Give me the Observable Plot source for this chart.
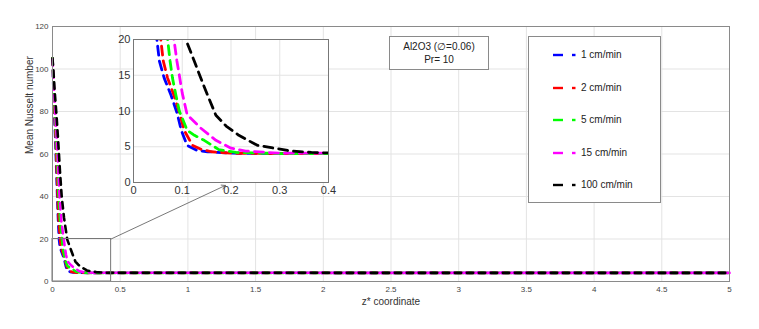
<!DOCTYPE html>
<html><head><meta charset="utf-8">
<script src="https://cdn.jsdelivr.net/npm/d3@7"></script>
<script src="https://cdn.jsdelivr.net/npm/@observablehq/plot@0.6"></script>
<style>
body{margin:0;background:#fff;font-family:"Liberation Sans",Arial,sans-serif;}
#wrap{position:relative;width:759px;height:329px;overflow:hidden;}
#wrap svg{position:absolute;}
.box{position:absolute;border:1px solid #8a8a8a;background:#fff;box-sizing:border-box;color:#222;}
</style></head><body><div id="wrap"></div>
<script>
// ---- data ----
const seriesNames = ["1 cm/min", "2 cm/min", "5 cm/min", "15 cm/min", "100 cm/min"];
const seriesColors = ["#0000ff", "#ff0000", "#00ff00", "#ff00ff", "#000000"];

const zBlue  = [0, 0.003, 0.008, 0.014, 0.02, 0.027, 0.035, 0.042, 0.048, 0.053, 0.063, 0.077, 0.089, 0.098, 0.11, 0.13, 0.152, 0.2, 0.3, 5];
const nuBlue = [105, 98, 88, 78, 68, 55, 40, 28, 20, 17, 14.6, 12.2, 9.8, 7.3, 5.2, 4.5, 4.3, 4.1, 4.05, 4.05];

const zRed  = [0, 0.004, 0.009, 0.016, 0.023, 0.03, 0.038, 0.046, 0.056, 0.061, 0.07, 0.083, 0.094, 0.104, 0.121, 0.14, 0.16, 0.2, 0.3, 5];
const nuRed = [105, 98, 88, 78, 68, 55, 40, 28, 20, 17, 14.6, 12.2, 9.8, 7.3, 5.2, 4.6, 4.3, 4.1, 4.05, 4.05];

const zGreen  = [0, 0.005, 0.011, 0.019, 0.027, 0.036, 0.045, 0.056, 0.07, 0.075, 0.08, 0.087, 0.094, 0.1, 0.11, 0.125, 0.145, 0.175, 0.21, 0.3, 5];
const nuGreen = [105, 98, 88, 78, 68, 55, 40, 28, 20, 17, 14.6, 12.2, 10, 9, 7.3, 6.6, 5.9, 4.6, 4.2, 4.05, 4.05];

const zMagenta  = [0, 0.006, 0.013, 0.022, 0.031, 0.041, 0.052, 0.066, 0.083, 0.089, 0.094, 0.1, 0.11, 0.138, 0.169, 0.2, 0.23, 0.3, 5];
const nuMagenta = [105, 98, 88, 78, 68, 55, 40, 28, 20, 17, 15, 12.5, 9.5, 7.6, 5.9, 4.8, 4.4, 4.1, 4.05];

const zBlack  = [0, 0.008, 0.018, 0.03, 0.042, 0.055, 0.068, 0.085, 0.109, 0.124, 0.138, 0.152, 0.169, 0.19, 0.216, 0.254, 0.288, 0.323, 0.365, 0.42, 5];
const nuBlack = [105, 98, 88, 78, 66, 52, 40, 30, 19.7, 17.1, 14.6, 12.2, 9.4, 7.9, 6.6, 5.2, 4.8, 4.4, 4.2, 4.1, 4.05];

const xTicksMain = [0, 0.5, 1, 1.5, 2, 2.5, 3, 3.5, 4, 4.5, 5];
const yTicksMain = [0, 20, 40, 60, 80, 100, 120];
const xTicksInset = [0, 0.1, 0.2, 0.3, 0.4];
const yTicksInset = [0, 5, 10, 15, 20];

const zoomBox = [{x1: 0, x2: 0.433, y1: 0, y2: 20}];
const zoomArrow = [{x1: 0.433, y1: 20, x2: 1.277, y2: 45.2}];

const annotationLines = ["Al2O3 (\u2205=0.06)", "Pr= 10"];
const xLabel = "z* coordinate";
const yLabel = "Mean Nusselt number";

// ---- build table ----
const zs = [zBlue, zRed, zGreen, zMagenta, zBlack];
const nus = [nuBlue, nuRed, nuGreen, nuMagenta, nuBlack];
const rows = seriesNames.flatMap((s, i) => zs[i].map((z, j) => ({series: s, z, nu: nus[i][j]})));

const font = '"Liberation Sans", Arial, sans-serif';
const wrap = document.getElementById("wrap");
const DASH = 6.5, GAP = 5.5;

const main = Plot.plot({
  width: 759, height: 329,
  marginLeft: 52, marginRight: 30, marginTop: 26, marginBottom: 48,
  style: {fontFamily: font, fontSize: "8px", color: "#444", background: "transparent"},
  x: {domain: [0, 5]},
  y: {domain: [0, 120]},
  color: {domain: seriesNames, range: seriesColors},
  marks: [
    Plot.gridX(xTicksMain, {stroke: "#e3e3e3", strokeOpacity: 1}),
    Plot.gridY(yTicksMain, {stroke: "#e3e3e3", strokeOpacity: 1}),
    Plot.axisX(xTicksMain, {tickSize: 0, tickPadding: 5, label: null, tickFormat: d => String(d)}),
    Plot.axisY(yTicksMain, {tickSize: 0, tickPadding: 4, label: null}),
    Plot.line(rows, {x: "z", y: "nu", z: "series", stroke: "series", strokeWidth: 2.6, strokeDasharray: `${DASH},${GAP}`}),
    Plot.rect(zoomBox, {x1: "x1", x2: "x2", y1: "y1", y2: "y2", fill: "none", stroke: "#777", strokeWidth: 1}),
    Plot.arrow(zoomArrow, {x1: "x1", y1: "y1", x2: "x2", y2: "y2", stroke: "#555", strokeWidth: 0.8, headLength: 8}),
    Plot.frame({stroke: "#8a8a8a"}),
    Plot.text([xLabel], {frameAnchor: "bottom", dy: 20, lineAnchor: "middle", fontSize: 10, fill: "#333"}),
    Plot.text([yLabel], {frameAnchor: "left", dx: -23, rotate: -90, fontSize: 10, fill: "#333"})
  ]
});
main.style.left = "0px"; main.style.top = "0px";
wrap.appendChild(main);

// shift the magenta dash phase so that, on the shared plateau, its dashes fall in the black gaps
(function () {
  const m = main.querySelector('path[stroke="#ff00ff"]');
  const b = main.querySelector('path[stroke="#000000"]');
  if (m && b && m.getTotalLength) {
    const period = DASH + GAP;
    const off = ((b.getTotalLength() - m.getTotalLength() + period / 2) % period + period) % period;
    m.setAttribute("stroke-dashoffset", off);
  }
})();

const inset = Plot.plot({
  width: 240, height: 180,
  marginLeft: 33, marginRight: 12, marginTop: 14, marginBottom: 23,
  style: {fontFamily: font, fontSize: "11px", color: "#333", background: "transparent"},
  x: {domain: [0, 0.4]},
  y: {domain: [0, 20]},
  color: {domain: seriesNames, range: seriesColors},
  marks: [
    Plot.frame({fill: "#fff", stroke: "none"}),
    Plot.gridX(xTicksInset, {stroke: "#e3e3e3", strokeOpacity: 1}),
    Plot.gridY(yTicksInset, {stroke: "#e3e3e3", strokeOpacity: 1}),
    Plot.axisX(xTicksInset, {tickSize: 0, tickPadding: 4, label: null, tickFormat: d => String(d)}),
    Plot.axisY(yTicksInset, {tickSize: 0, tickPadding: 3, label: null}),
    Plot.line(rows, {x: "z", y: "nu", z: "series", stroke: "series", strokeWidth: 2.8, strokeDasharray: "9,6", clip: true}),
    Plot.frame({stroke: "#777"})
  ]
});
inset.style.left = "100px"; inset.style.top = "25px";
wrap.appendChild(inset);

// annotation box
const ann = document.createElement("div");
ann.className = "box";
Object.assign(ann.style, {left: "389px", top: "36px", width: "100px", height: "34px", fontSize: "10px", textAlign: "center", lineHeight: "13px", paddingTop: "3px"});
ann.innerHTML = annotationLines.map(t => `<div>${t}</div>`).join("");
wrap.appendChild(ann);

// legend
const leg = document.createElement("div");
leg.className = "box";
Object.assign(leg.style, {left: "528px", top: "36px", width: "133px", height: "167px"});
seriesNames.forEach((name, i) => {
  const y = 18 + i * 32.6;
  const row = document.createElement("div");
  Object.assign(row.style, {position: "absolute", left: "0px", top: (y - 7) + "px", height: "14px", width: "130px"});
  row.innerHTML = `<svg width="50" height="14" style="position:absolute;left:0;top:0"><line x1="24" x2="34" y1="7" y2="7" stroke="${seriesColors[i]}" stroke-width="2.4"/><line x1="43" x2="46.5" y1="7" y2="7" stroke="${seriesColors[i]}" stroke-width="2.4"/></svg><span style="position:absolute;left:52px;top:1px;font-size:10px;color:#222;white-space:nowrap">${name}</span>`;
  leg.appendChild(row);
});
wrap.appendChild(leg);
</script>
</body></html>
